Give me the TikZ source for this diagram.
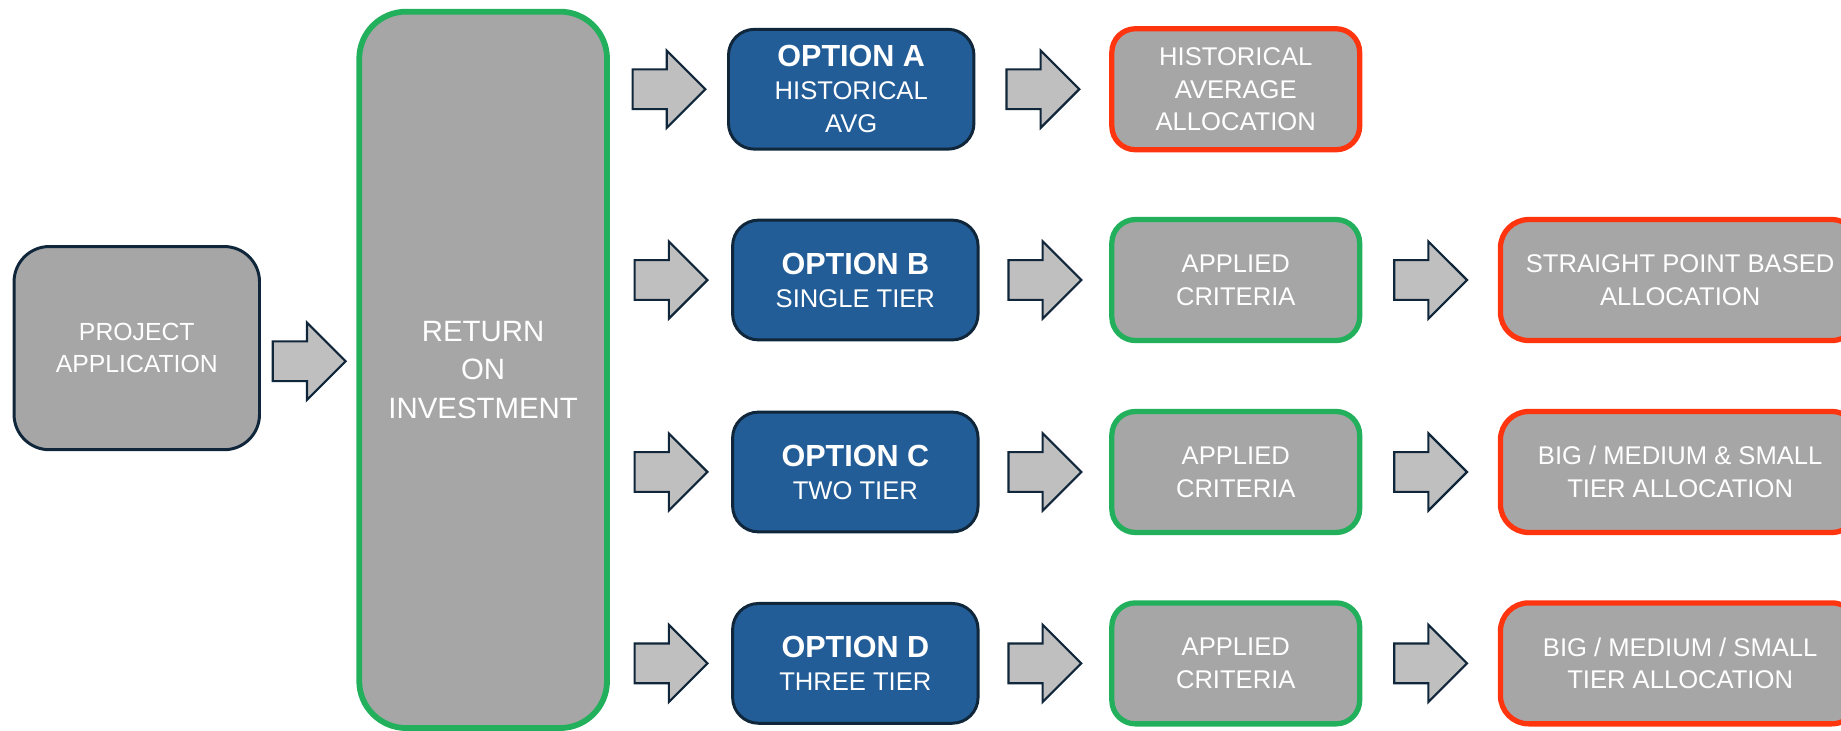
\documentclass[tikz,border=0pt]{standalone}
\usepackage{fontspec}
\setmainfont{Liberation Sans}
\usepackage{tikz}
\usetikzlibrary{shapes,arrows,calc}
\definecolor{boxgray}{HTML}{A6A6A6}
\definecolor{optblue}{HTML}{225D97}
\definecolor{darkline}{HTML}{10263A}
\definecolor{okgreen}{HTML}{22B05C}
\definecolor{allocred}{HTML}{FF3510}
\definecolor{arrowgray}{HTML}{BFBFBF}
\tikzset{
  graybox/.style={rectangle, rounded corners=0.5cm, fill=boxgray, text=white, align=center,
    font=\fontsize{15.5}{19.9}\selectfont},
  optbox/.style={rectangle, rounded corners=0.55cm, fill=optblue, draw=darkline, line width=1.8pt,
    text=white, align=center, minimum width=5.225cm, minimum height=2.55cm,
    font=\fontsize{15.5}{20}\selectfont},
  critbox/.style={graybox, draw=okgreen, line width=3.2pt, minimum width=5.275cm, minimum height=2.575cm},
  allocbox/.style={graybox, draw=allocred, line width=3.2pt, rounded corners=0.6cm,
    minimum width=7.65cm, minimum height=2.575cm},
  blockarrow/.style={single arrow, fill=arrowgray, draw=darkline, line width=1.3pt,
    single arrow head extend=0.4cm, inner xsep=0pt, inner ysep=0.4cm, minimum height=1.55cm,
    xshift=-0.2cm}
}
\newcommand{\optname}[1]{{\fontsize{18.5}{20}\selectfont\bfseries #1}}

\begin{document}
\begin{tikzpicture}[x=0.025cm, y=-0.025cm]
   \useasboundingbox (0,0) rectangle (1568,622.6);
   % first two blocks
   \node[graybox, draw=darkline, line width=1.8pt, rounded corners=0.75cm,
     minimum width=5.225cm, minimum height=4.325cm, font=\fontsize{15}{19.2}\selectfont]
     (proj) at (116.5,296.5) {PROJECT\\APPLICATION};
   \node[graybox, draw=okgreen, line width=3.5pt, rounded corners=1cm,
     minimum width=5.275cm, minimum height=15.25cm, font=\fontsize{17.8}{23.5}\selectfont]
     (roi) at (411.5,315) {RETURN\\ON\\INVESTMENT};
   % options
   \node[optbox] (optA) at (725,76) {\optname{OPTION A}\\HISTORICAL\\AVG};
   \node[optbox] (optB) at (728.5,238.5) {\optname{OPTION B}\\SINGLE TIER};
   \node[optbox] (optC) at (728.5,402) {\optname{OPTION C}\\TWO TIER};
   \node[optbox] (optD) at (728.5,565) {\optname{OPTION D}\\THREE TIER};
   % criteria
   \node[critbox, draw=allocred] (critA) at (1052.5,76) {HISTORICAL\\AVERAGE\\ALLOCATION};
   \node[critbox] (critB) at (1052.5,238.5) {APPLIED\\CRITERIA};
   \node[critbox] (critC) at (1052.5,402) {APPLIED\\CRITERIA};
   \node[critbox] (critD) at (1052.5,565) {APPLIED\\CRITERIA};
   % allocations
   \node[allocbox] (allocB) at (1431,238.5) {STRAIGHT POINT BASED\\ALLOCATION};
   \node[allocbox] (allocC) at (1431,402) {BIG / MEDIUM \& SMALL\\TIER ALLOCATION};
   \node[allocbox] (allocD) at (1431,565) {BIG / MEDIUM / SMALL\\TIER ALLOCATION};
   % arrows
   \node[blockarrow, yshift=-0.28cm] (ar0) at ($(proj.east)!0.5!(roi.west |- proj.east)$) {};
   \node[blockarrow] (arA1) at ($(roi.east |- optA.west)!0.5!(optA.west)$) {};
   \node[blockarrow] (arB1) at ($(roi.east |- optB.west)!0.5!(optB.west)$) {};
   \node[blockarrow] (arC1) at ($(roi.east |- optC.west)!0.5!(optC.west)$) {};
   \node[blockarrow] (arD1) at ($(roi.east |- optD.west)!0.5!(optD.west)$) {};
   \node[blockarrow] (arA2) at ($(optA.east)!0.5!(critA.west)$) {};
   \node[blockarrow] (arB2) at ($(optB.east)!0.5!(critB.west)$) {};
   \node[blockarrow] (arC2) at ($(optC.east)!0.5!(critC.west)$) {};
   \node[blockarrow] (arD2) at ($(optD.east)!0.5!(critD.west)$) {};
   \node[blockarrow] (arB3) at ($(critB.east)!0.5!(allocB.west)$) {};
   \node[blockarrow] (arC3) at ($(critC.east)!0.5!(allocC.west)$) {};
   \node[blockarrow] (arD3) at ($(critD.east)!0.5!(allocD.west)$) {};
\end{tikzpicture}
\end{document}
